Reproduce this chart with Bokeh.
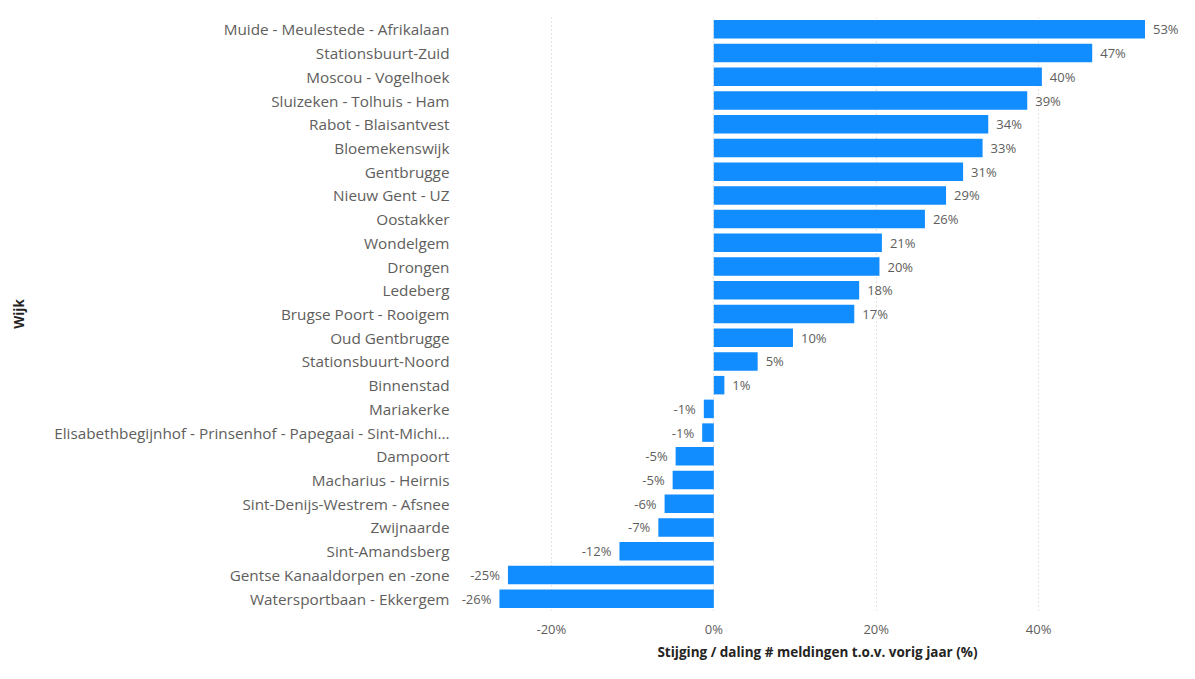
from bokeh.plotting import figure
from bokeh.models import FactorRange, FixedTicker, PrintfTickFormatter, ColumnDataSource
from bokeh.core.properties import value
from bokeh.embed import file_html
from bokeh.resources import INLINE

wijken = [
    "Muide - Meulestede - Afrikalaan",
    "Stationsbuurt-Zuid",
    "Moscou - Vogelhoek",
    "Sluizeken - Tolhuis - Ham",
    "Rabot - Blaisantvest",
    "Bloemekenswijk",
    "Gentbrugge",
    "Nieuw Gent - UZ",
    "Oostakker",
    "Wondelgem",
    "Drongen",
    "Ledeberg",
    "Brugse Poort - Rooigem",
    "Oud Gentbrugge",
    "Stationsbuurt-Noord",
    "Binnenstad",
    "Mariakerke",
    "Elisabethbegijnhof - Prinsenhof - Papegaai - Sint-Michi...",
    "Dampoort",
    "Macharius - Heirnis",
    "Sint-Denijs-Westrem - Afsnee",
    "Zwijnaarde",
    "Sint-Amandsberg",
    "Gentse Kanaaldorpen en -zone",
    "Watersportbaan - Ekkergem",
]
verandering = [53.1, 46.6, 40.4, 38.6, 33.8, 33.1, 30.7, 28.6, 26.0, 20.7, 20.4, 17.9, 17.3,
               9.75, 5.4, 1.3, -1.23, -1.43, -4.7, -5.07, -6.06, -6.83, -11.62, -25.35, -26.4]
x_ticks = [-20, 0, 20, 40]

FONT = "Open Sans"
GREY = "#605E5C"
BLUE = "#118DFF"

labels = [f"{round(v)}%" for v in verandering]

p = figure(width=1179, height=663, output_backend="svg", toolbar_location=None,
           y_range=FactorRange(factors=list(reversed(wijken)), range_padding=0),
           x_range=(-31.81, 57.35),
           min_border_left=455, min_border_right=0, min_border_top=17, min_border_bottom=46)

src = ColumnDataSource(dict(wijk=wijken, v=verandering, lab=labels))
p.hbar(y="wijk", left=0, right="v", height=0.78, source=src, fill_color=BLUE, line_color=None)

pos = ColumnDataSource(dict(wijk=[w for w, v in zip(wijken, verandering) if v >= 0],
                            v=[v for v in verandering if v >= 0],
                            lab=[l for l, v in zip(labels, verandering) if v >= 0]))
neg = ColumnDataSource(dict(wijk=[w for w, v in zip(wijken, verandering) if v < 0],
                            v=[v for v in verandering if v < 0],
                            lab=[l for l, v in zip(labels, verandering) if v < 0]))
p.text(x="v", y="wijk", text="lab", source=pos, x_offset=8, text_align="left",
       text_baseline="middle", text_font=value(FONT), text_font_size="13px", text_color=GREY)
p.text(x="v", y="wijk", text="lab", source=neg, x_offset=-8, text_align="right",
       text_baseline="middle", text_font=value(FONT), text_font_size="13px", text_color=GREY)

p.outline_line_color = None
p.ygrid.grid_line_color = None
p.xgrid.grid_line_color = "#C8C6C4"
p.xgrid.grid_line_dash = "1 3"
p.xgrid.ticker = FixedTicker(ticks=x_ticks)

xa = p.xaxis[0]
xa.ticker = FixedTicker(ticks=x_ticks)
xa.formatter = PrintfTickFormatter(format="%d%%")
xa.axis_line_color = None
xa.major_tick_line_color = None
xa.minor_tick_line_color = None
xa.major_tick_out = 0
xa.major_label_text_font = FONT
xa.major_label_text_font_size = "13px"
xa.major_label_text_color = GREY
xa.major_label_standoff = 9
xa.axis_label = "Stijging / daling # meldingen t.o.v. vorig jaar (%)"
xa.axis_label_text_font = FONT
xa.axis_label_text_font_size = "13.5px"
xa.axis_label_text_font_style = "bold"
xa.axis_label_text_color = "#252423"
xa.axis_label_standoff = 2

ya = p.yaxis[0]
ya.axis_line_color = None
ya.major_tick_line_color = None
ya.minor_tick_line_color = None
ya.major_tick_out = 0
ya.major_label_text_font = FONT
ya.major_label_text_font_size = "15.3px"
ya.major_label_text_color = GREY
ya.major_label_standoff = 6
ya.axis_label = "Wijk"
ya.axis_label_text_font = FONT
ya.axis_label_text_font_size = "13.5px"
ya.axis_label_text_font_style = "bold"
ya.axis_label_text_color = "#252423"
ya.axis_label_standoff = 23

open("out.html", "w").write(file_html(p, INLINE))
